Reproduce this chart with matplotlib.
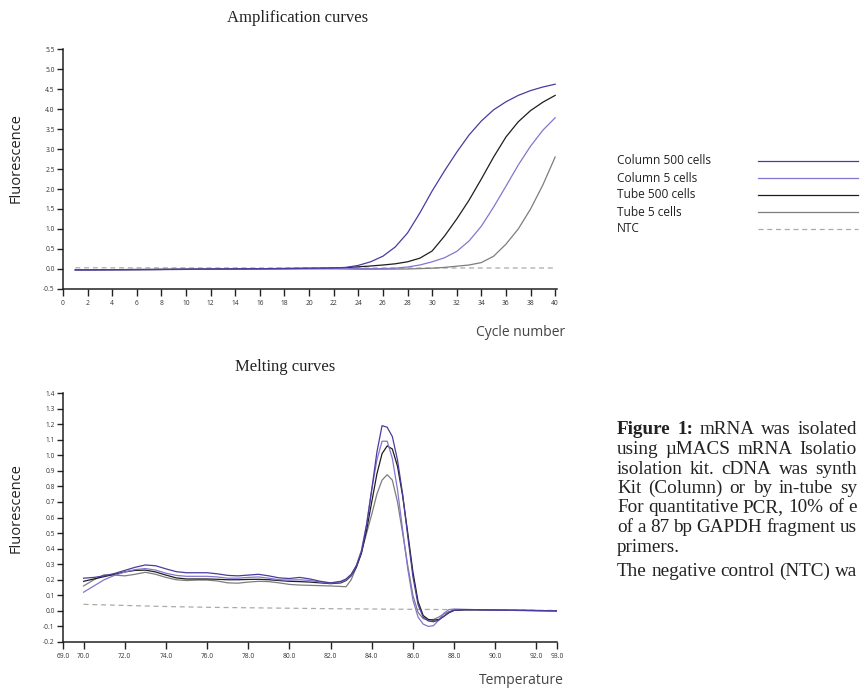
import matplotlib
matplotlib.use("Agg")
import matplotlib.pyplot as plt
from matplotlib.lines import Line2D

plt.rcParams['axes.unicode_minus'] = False
plt.rcParams['font.family'] = ['Open Sans', 'DejaVu Sans']

# ---------------- data: amplification ----------------
cycles = list(range(1, 41))
amp_column_500 = [-0.02, -0.02, -0.018, -0.016, -0.015, -0.013, -0.012, -0.01, -0.008, -0.006,
                  -0.004, -0.002, 0.0, 0.003, 0.005, 0.007, 0.01, 0.012, 0.015, 0.018,
                  0.02, 0.025, 0.04, 0.09, 0.18, 0.32, 0.55, 0.9, 1.4, 1.95,
                  2.45, 2.92, 3.35, 3.7, 3.98, 4.18, 4.34, 4.46, 4.55, 4.62]
amp_column_5 = [-0.025, -0.024, -0.023, -0.022, -0.02, -0.018, -0.016, -0.014, -0.012, -0.01,
                -0.008, -0.006, -0.005, -0.004, -0.002, 0.0, 0.002, 0.004, 0.006, 0.008,
                0.01, 0.012, 0.012, 0.01, 0.008, 0.01, 0.02, 0.05, 0.1, 0.18,
                0.28, 0.44, 0.7, 1.07, 1.55, 2.07, 2.6, 3.07, 3.47, 3.78]
amp_tube_500 = [-0.02, -0.02, -0.018, -0.016, -0.015, -0.013, -0.012, -0.01, -0.008, -0.006,
                -0.004, -0.002, 0.0, 0.003, 0.005, 0.007, 0.01, 0.012, 0.015, 0.018,
                0.02, 0.025, 0.035, 0.055, 0.075, 0.1, 0.13, 0.18, 0.27, 0.45,
                0.82, 1.25, 1.72, 2.25, 2.8, 3.3, 3.68, 3.96, 4.17, 4.34]
amp_tube_5 = [-0.025, -0.024, -0.023, -0.022, -0.02, -0.018, -0.016, -0.014, -0.012, -0.01,
              -0.008, -0.006, -0.005, -0.004, -0.002, 0.0, 0.002, 0.003, 0.004, 0.005,
              0.005, 0.005, 0.0, -0.005, -0.006, -0.004, -0.002, 0.0, 0.01, 0.02,
              0.04, 0.07, 0.1, 0.16, 0.32, 0.62, 1.0, 1.5, 2.1, 2.8]
amp_ntc = [0.03, 0.03, 0.03, 0.029, 0.029, 0.029, 0.028, 0.028, 0.028, 0.028,
           0.027, 0.027, 0.027, 0.027, 0.027, 0.026, 0.026, 0.026, 0.026, 0.026,
           0.026, 0.025, 0.025, 0.025, 0.025, 0.025, 0.025, 0.025, 0.025, 0.025,
           0.025, 0.025, 0.025, 0.025, 0.025, 0.025, 0.025, 0.025, 0.025, 0.025]

amp_xticks = list(range(0, 41, 2))
amp_yticks = [-0.5, 0.0, 0.5, 1.0, 1.5, 2.0, 2.5, 3.0, 3.5, 4.0, 4.5, 5.0, 5.5]

# ---------------- data: melting ----------------
temps = [70.0, 70.5, 71.0, 71.5, 72.0, 72.5, 73.0, 73.5, 74.0, 74.5, 75.0, 75.5, 76.0,
         76.5, 77.0, 77.5, 78.0, 78.5, 79.0, 79.5, 80.0, 80.5, 81.0, 81.5, 82.0, 82.5,
         82.75, 83.0, 83.25, 83.5, 83.75, 84.0, 84.25, 84.5, 84.75, 85.0, 85.25, 85.5,
         85.75, 86.0, 86.25, 86.5, 86.75, 87.0, 87.25, 87.5, 87.75, 88.0,
         88.5, 89.0, 90.0, 91.0, 92.0, 93.0]
melt_column_500 = [0.21, 0.215, 0.225, 0.24, 0.26, 0.28, 0.295, 0.29, 0.27, 0.252, 0.245, 0.245, 0.245,
                   0.238, 0.228, 0.225, 0.23, 0.235, 0.225, 0.212, 0.208, 0.215, 0.205, 0.19, 0.18, 0.19,
                   0.205, 0.235, 0.29, 0.38, 0.55, 0.78, 1.02, 1.19, 1.18, 1.12, 0.97, 0.75,
                   0.48, 0.22, 0.04, -0.04, -0.065, -0.07, -0.06, -0.035, -0.01, 0.004,
                   0.008, 0.008, 0.006, 0.004, 0.002, 0.0]
melt_column_5 = [0.12, 0.16, 0.2, 0.228, 0.25, 0.265, 0.272, 0.262, 0.242, 0.228, 0.222, 0.222, 0.222,
                 0.218, 0.21, 0.21, 0.215, 0.218, 0.21, 0.2, 0.198, 0.2, 0.195, 0.185, 0.178, 0.185,
                 0.2, 0.23, 0.29, 0.39, 0.56, 0.78, 0.97, 1.09, 1.09, 0.98, 0.78, 0.52,
                 0.27, 0.07, -0.04, -0.085, -0.1, -0.095, -0.06, -0.015, 0.008, 0.012,
                 0.01, 0.008, 0.006, 0.004, 0.002, 0.0]
melt_tube_500 = [0.19, 0.205, 0.22, 0.235, 0.25, 0.26, 0.262, 0.25, 0.23, 0.212, 0.205, 0.205, 0.205,
                 0.203, 0.2, 0.2, 0.202, 0.203, 0.2, 0.195, 0.19, 0.188, 0.185, 0.18, 0.175, 0.18,
                 0.195, 0.225, 0.28, 0.37, 0.52, 0.7, 0.88, 1.01, 1.06, 1.04, 0.93, 0.74,
                 0.5, 0.25, 0.06, -0.03, -0.055, -0.06, -0.055, -0.035, -0.012, 0.003,
                 0.007, 0.007, 0.005, 0.003, 0.002, 0.0]
melt_tube_5 = [0.16, 0.2, 0.232, 0.23, 0.225, 0.235, 0.248, 0.235, 0.215, 0.2, 0.195, 0.198, 0.198,
               0.192, 0.18, 0.178, 0.185, 0.19, 0.188, 0.18, 0.17, 0.166, 0.164, 0.162, 0.16, 0.157,
               0.155, 0.2, 0.28, 0.38, 0.5, 0.62, 0.75, 0.84, 0.875, 0.84, 0.7, 0.5,
               0.29, 0.1, -0.01, -0.05, -0.06, -0.055, -0.04, -0.02, -0.005, 0.004,
               0.007, 0.007, 0.005, 0.003, 0.002, 0.0]
ntc_temps = [70.0, 72.0, 74.0, 76.0, 78.0, 80.0, 82.0, 84.0, 86.0, 88.0, 90.0, 92.0, 93.0]
melt_ntc = [0.042, 0.035, 0.028, 0.023, 0.02, 0.017, 0.014, 0.012, 0.01, 0.008, 0.006, 0.004, 0.003]

melt_xticks = [69.0, 70.0, 72.0, 74.0, 76.0, 78.0, 80.0, 82.0, 84.0, 86.0, 88.0, 90.0, 92.0, 93.0]
melt_yticks = [-0.2, -0.1, 0.0, 0.1, 0.2, 0.3, 0.4, 0.5, 0.6, 0.7, 0.8, 0.9, 1.0, 1.1, 1.2, 1.3, 1.4]

labels = ["Column 500 cells", "Column 5 cells", "Tube 500 cells", "Tube 5 cells", "NTC"]
colors = ["#4b3b9e", "#8377cc", "#1e1e1e", "#7d7d7d", "#ababab"]

# caption as visible in the (cropped) reference
caption_lines = [
    ("Figure 1:", "mRNA was isolated"),
    (None, "using \u00b5MACS mRNA Isolatio"),
    (None, "isolation kit. cDNA was synth"),
    (None, "Kit (Column) or by in-tube sy"),
    (None, "For quantitative PCR, 10% of e"),
    (None, "of a 87 bp GAPDH fragment us"),
    (None, "primers."),
    (None, "The negative control (NTC) wa"),
]
caption_y = [430, 449.5, 469, 488.5, 508, 527.5, 547, 571]
caption_justify = [True, True, True, True, True, True, False, True]

W, H = 860, 691
fig = plt.figure(figsize=(W / 100, H / 100), dpi=100)


def px_axes(x0, x1, y0, y1):
    return fig.add_axes([x0 / W, 1 - y1 / H, (x1 - x0) / W, (y1 - y0) / H])


def style(ax):
    for s in ("top", "right"):
        ax.spines[s].set_visible(False)
    for s in ("left", "bottom"):
        ax.spines[s].set_linewidth(1.1)
        ax.spines[s].set_color("#222222")
    ax.tick_params(axis="both", labelsize=4.8, width=1.0, color="#222222", labelcolor="#333333")
    ax.tick_params(axis="x", length=5, pad=3)
    ax.tick_params(axis="y", length=4, pad=2)
    ax.set_facecolor("none")


serif = ["Liberation Serif", "DejaVu Serif"]
lw = 0.9

# ---- amplification ----
ax1 = px_axes(63, 557, 49, 289)
series_amp = [amp_column_500, amp_column_5, amp_tube_500, amp_tube_5]
ax1.plot(cycles, amp_ntc, color=colors[4], lw=lw, dashes=(4, 3))
for idx in (3, 2, 1, 0):
    ax1.plot(cycles, series_amp[idx], color=colors[idx], lw=lw)
ax1.set_xlim(0, 40.15)
ax1.set_ylim(-0.5, 5.5)
ax1.set_xticks(amp_xticks)
ax1.set_xticklabels([str(v) for v in amp_xticks])
ax1.set_yticks(amp_yticks)
ax1.set_yticklabels([f"{v:.1f}" for v in amp_yticks])
style(ax1)

# ---- melting ----
ax2 = px_axes(63, 557, 393, 642)
series_melt = [melt_column_500, melt_column_5, melt_tube_500, melt_tube_5]
ax2.plot(ntc_temps, melt_ntc, color=colors[4], lw=lw, dashes=(4, 3))
for idx in (3, 2, 1, 0):
    ax2.plot(temps, series_melt[idx], color=colors[idx], lw=lw)
ax2.set_xlim(69.0, 93.0)
ax2.set_ylim(-0.2, 1.4)
ax2.set_xticks(melt_xticks)
ax2.set_xticklabels([f"{v:.1f}" for v in melt_xticks])
ax2.set_yticks(melt_yticks)
ax2.set_yticklabels([f"{v:.1f}" for v in melt_yticks])
style(ax2)

# ---- titles & labels ----
fig.text(298 / W, 1 - 18 / H, "Amplification curves", family=serif, fontsize=12,
         ha="center", va="center", color="#222222")
fig.text(285 / W, 1 - 367 / H, "Melting curves", family=serif, fontsize=12,
         ha="center", va="center", color="#222222")
fig.text(16 / W, 1 - 158 / H, "Fluorescence", fontsize=10.5, rotation=90,
         ha="center", va="center", color="#222222")
fig.text(16 / W, 1 - 508 / H, "Fluorescence", fontsize=10.5, rotation=90,
         ha="center", va="center", color="#222222")
fig.text(565 / W, 1 - 332 / H, "Cycle number", fontsize=10, ha="right", va="center",
         color="#444444")
fig.text(564 / W, 1 - 681 / H, "Temperature", fontsize=10, ha="right", va="center",
         color="#444444")

# ---- legend ----
row_y = [161, 178, 195, 212, 229]
for i, lab in enumerate(labels):
    y = 1 - row_y[i] / H
    fig.text(617 / W, y, lab, fontsize=8.6, ha="left", va="center", color="#222222")
    ln = Line2D([758 / W, 858 / W], [y, y], transform=fig.transFigure, color=colors[i], lw=lw)
    if i == 4:
        ln.set_dashes((4, 3))
    fig.add_artist(ln)

# ---- caption (justified to the right edge) ----
fig.canvas.draw()
renderer = fig.canvas.get_renderer()
cap_x0, cap_x1 = 617, 857
cap_fs = 13.8


def word_width(txt, weight):
    t = fig.text(0, 0, txt, family=serif, fontsize=cap_fs, fontweight=weight)
    w = t.get_window_extent(renderer).width
    t.remove()
    return w


for (bold, rest), yy, just in zip(caption_lines, caption_y, caption_justify):
    words = []
    if bold:
        words += [(w, "bold") for w in bold.split(" ")]
    words += [(w, "normal") for w in rest.split(" ")]
    widths = [word_width(w, wt) for w, wt in words]
    space = word_width("a b", "normal") - word_width("ab", "normal")
    if just and len(words) > 1:
        gap = (cap_x1 - cap_x0 - sum(widths)) / (len(words) - 1)
    else:
        gap = space
    x = cap_x0
    for (w, wt), wd in zip(words, widths):
        fig.text(x / W, 1 - yy / H, w, family=serif, fontsize=cap_fs, fontweight=wt,
                 ha="left", va="center", color="#222222")
        x += wd + gap

fig.savefig("out.png", dpi=100)
